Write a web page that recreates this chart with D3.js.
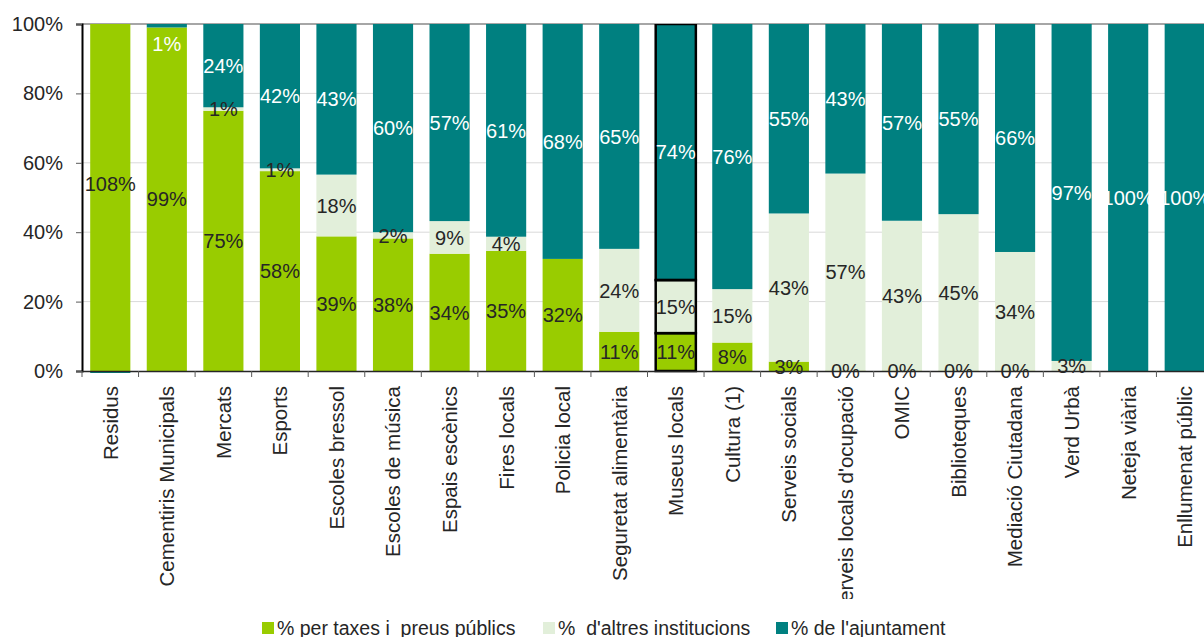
<!DOCTYPE html>
<html>
<head>
<meta charset="utf-8">
<script src="https://cdn.jsdelivr.net/npm/d3@7"></script>
<style>
  body { margin: 0; background: #fff; }
  svg text { font-family: "Liberation Sans", Arial, sans-serif; }
</style>
</head>
<body>
<svg id="chart" width="1204" height="637"></svg>
<script>
// Finançament dels serveis municipals (% sobre el cost)
const categories = [
  "Residus", "Cementiris Municipals", "Mercats", "Esports", "Escoles bressol",
  "Escoles de música", "Espais escènics", "Fires locals", "Policia local",
  "Seguretat alimentària", "Museus locals", "Cultura (1)", "Serveis socials",
  "Serveis locals d'ocupació", "OMIC", "Biblioteques", "Mediació Ciutadana",
  "Verd Urbà", "Neteja viària", "Enllumenat públic"
];
const taxes      = [108, 99, 75, 57.6, 38.8, 38.2, 33.8, 34.6, 32.3, 11.3, 10.9, 8.2, 2.7, 0.1, 0.1, 0.1, 0.1, 0, 0, 0];
const altres     = [0, 0, 1, 0.8, 17.8, 1.8, 9.4, 4.1, 0, 23.9, 15.3, 15.4, 42.7, 56.8, 43.2, 45.1, 34.2, 2.9, 0, 0];
const ajuntament = [-8, 1, 24, 41.6, 43.4, 60, 56.8, 61.3, 67.7, 64.8, 73.8, 76.4, 54.6, 43.1, 56.7, 54.8, 65.7, 97.1, 100, 100];

const seriesKeys   = ["taxes", "altres", "ajuntament"];
const seriesNames  = ["% per taxes i  preus públics", "%  d'altres institucions", "% de l'ajuntament"];
const seriesColors = ["#99cc00", "#e2efda", "#008080"];
const labelColors  = ["#262626", "#262626", "#ffffff"];
const yTicks = [0, 20, 40, 60, 80, 100];
const highlighted = "Museus locals";

const rows = categories.map((c, i) => ({
  cat: c, taxes: taxes[i], altres: altres[i], ajuntament: ajuntament[i]
}));

const svg = d3.select("#chart");
const plotLeft = 82, plotRight = 1213, plotTop = 24, plotBottom = 371;
const labelAreaBottom = 599;

const x = d3.scaleBand().domain(categories).range([plotLeft, plotRight])
  .paddingInner(0.29).paddingOuter(0.145);
const y = d3.scaleLinear().domain([0, 100]).range([plotBottom, plotTop]);

// gridlines
svg.append("g").selectAll("line").data(yTicks.filter(t => t > 0 && t < 100)).join("line")
  .attr("x1", plotLeft).attr("x2", 1204)
  .attr("y1", d => y(d)).attr("y2", d => y(d))
  .attr("stroke", "#d9d9d9").attr("stroke-width", 1);
svg.append("line").attr("x1", plotLeft).attr("x2", 1204)
  .attr("y1", y(100)).attr("y2", y(100))
  .attr("stroke", "#a6a6a6").attr("stroke-width", 2);

// stacked bars
const stacked = d3.stack().keys(seriesKeys).offset(d3.stackOffsetDiverging)(rows);

const defs = svg.append("defs");
defs.append("clipPath").attr("id", "plot")
  .append("rect").attr("x", plotLeft).attr("y", plotTop)
  .attr("width", 1204 - plotLeft).attr("height", plotBottom - plotTop + 2);
defs.append("clipPath").attr("id", "catlabels")
  .append("rect").attr("x", 0).attr("y", -10)
  .attr("width", 1204).attr("height", labelAreaBottom - plotBottom + 10);

const plot = svg.append("g").attr("clip-path", "url(#plot)");
stacked.forEach((layer, li) => {
  plot.append("g").selectAll("rect").data(layer).join("rect")
    .attr("x", d => x(d.data.cat))
    .attr("width", x.bandwidth())
    .attr("y", d => y(Math.max(d[0], d[1])))
    .attr("height", d => Math.abs(y(d[0]) - y(d[1])))
    .attr("fill", seriesColors[li]);
});

// outline of the highlighted service
stacked.forEach(layer => {
  const d = layer.find(p => p.data.cat === highlighted);
  if (d[1] - d[0] > 0) {
    plot.append("rect")
      .attr("x", x(d.data.cat)).attr("width", x.bandwidth())
      .attr("y", y(d[1])).attr("height", y(d[0]) - y(d[1]))
      .attr("fill", "none").attr("stroke", "#000").attr("stroke-width", 2.5);
  }
});

// axes
const yAxis = svg.append("g").attr("transform", `translate(${plotLeft},0)`)
  .call(d3.axisLeft(y).tickValues(yTicks).tickFormat(d => d + "%").tickSize(6).tickPadding(13));
yAxis.select(".domain").attr("stroke", "#000").attr("stroke-width", 2);
yAxis.selectAll(".tick line").attr("stroke", "#595959");
yAxis.selectAll(".tick text").attr("font-size", 20).attr("fill", "#262626")
  .attr("font-family", "Liberation Sans, Arial, sans-serif");

const xAxis = svg.append("g").attr("transform", `translate(0,${plotBottom})`)
  .attr("clip-path", "url(#catlabels)")
  .call(d3.axisBottom(x).tickSize(0).tickPadding(0));
xAxis.select(".domain").attr("stroke", "#262626").attr("stroke-width", 1.5);
xAxis.selectAll(".tick text")
  .attr("font-size", 20.5).attr("fill", "#262626")
  .attr("font-family", "Liberation Sans, Arial, sans-serif")
  .attr("text-anchor", "end")
  .attr("transform", "rotate(-90)")
  .attr("x", -15).attr("y", 0).attr("dy", "0.36em");

// category separators on the x axis
svg.append("g").selectAll("line").data(d3.range(categories.length + 1)).join("line")
  .attr("x1", i => plotLeft + i * x.step()).attr("x2", i => plotLeft + i * x.step())
  .attr("y1", plotBottom).attr("y2", plotBottom + 6)
  .attr("stroke", "#595959");

// value labels
stacked.forEach((layer, li) => {
  svg.append("g").selectAll("text").data(layer.filter(d => d.data[layer.key] > 0)).join("text")
    .attr("x", d => x(d.data.cat) + x.bandwidth() / 2)
    .attr("y", d => Math.max(y((d[0] + d[1]) / 2), plotTop + 20))
    .attr("dy", "0.36em")
    .attr("text-anchor", "middle")
    .attr("font-size", 20)
    .attr("fill", labelColors[li])
    .text(d => Math.round(d.data[layer.key]) + "%");
});

// legend
const legendX = [262, 543, 776];
const legend = svg.append("g");
seriesNames.forEach((name, i) => {
  legend.append("rect").attr("x", legendX[i]).attr("y", 622).attr("width", 12).attr("height", 12)
    .attr("fill", seriesColors[i]);
  legend.append("text").attr("x", legendX[i] + 15).attr("y", 628).attr("dy", "0.36em")
    .attr("font-size", 19.5).attr("fill", "#262626")
    .style("white-space", "pre")
    .text(name);
});
</script>
</body>
</html>
